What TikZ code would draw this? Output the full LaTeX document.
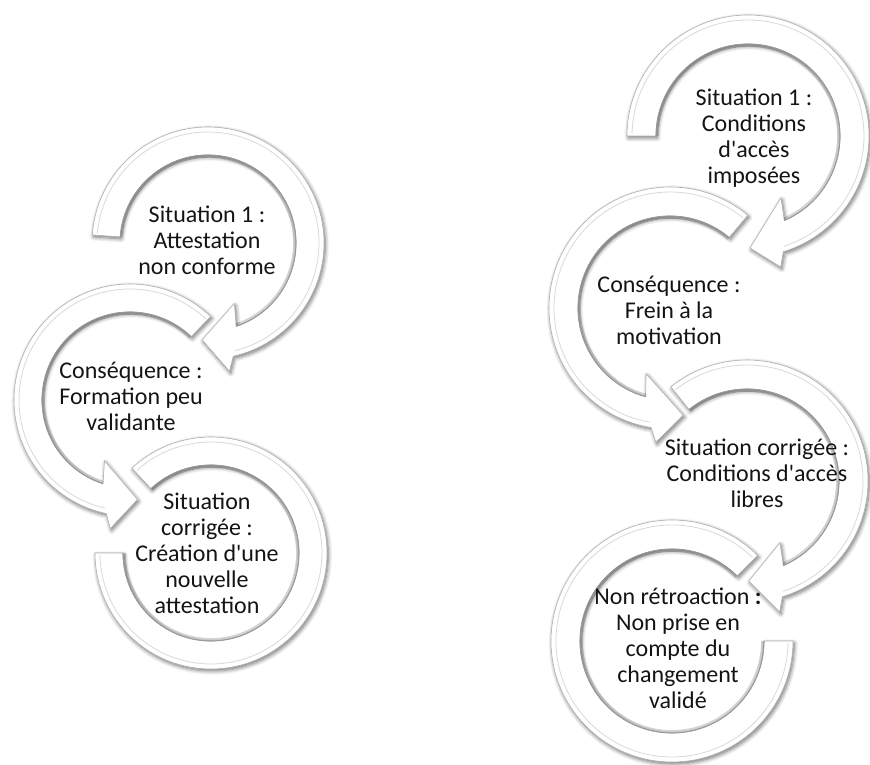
\documentclass[tikz,border=0pt]{standalone}
\usepackage{fontspec}
\setmainfont{Carlito}
\usetikzlibrary{calc,shadows.blur}
\newcommand\ringarc[5]{\draw[#5] ($(#1)+(#2:#4pt)$) arc[start angle=#2,end angle=#3,radius=#4pt];}
\newcommand\apos{\textquotesingle}
\begin{document}
\begin{tikzpicture}[x=1pt,y=1pt,
  ring/.style={fill=white, draw=gray!62, line width=0.6pt,
    blur shadow={shadow xshift=1.3pt, shadow yshift=-2pt, shadow blur radius=4pt, shadow blur steps=7, shadow opacity=55}},
  holeshade/.style={draw=black, opacity=.17, line width=3.2pt},
  inneredge/.style={draw=gray!80, line width=.8pt},
  bevel/.style={draw=gray!30, line width=.8pt},
  lbl/.style={align=center, font=\fontsize{24}{26}\selectfont, text=black!92, inner sep=0pt}]
\useasboundingbox (0,0) rectangle (870,764);
% centres
\coordinate (L1) at (208,521);
\coordinate (L2) at (130,364);
\coordinate (L3) at (211,211);
\coordinate (R1) at (748,628);
\coordinate (R2) at (670,456);
\coordinate (R3) at (747,283);
\coordinate (R4) at (672,123);
% ---------- left group ----------
\path[ring] ($(L3)+(133:116pt)$) arc[start angle=133,end angle=-180,radius=116pt]
  -- ($(L3)+(-180:88pt)$) arc[start angle=-180,end angle=133,radius=88pt] -- cycle;
\ringarc{L3}{133}{-180}{86.7}{holeshade}
\ringarc{L3}{133}{-180}{88}{inneredge}
\ringarc{L3}{132}{-179}{111}{bevel}

\path[ring] ($(L2)+(46:116pt)$) arc[start angle=46,end angle=258.2,radius=116pt]
  -- ($(L2)+(261.3:130pt)$) -- ($(L2)+(274.3:99.8pt)$) -- ($(L2)+(247.3:66pt)$)
  -- ($(L2)+(252.1:88pt)$) arc[start angle=252.1,end angle=46,radius=88pt] -- cycle;
\ringarc{L2}{46}{252.1}{86.7}{holeshade}
\ringarc{L2}{46}{252.1}{88}{inneredge}
\ringarc{L2}{47}{257}{111}{bevel}

\path[ring] ($(L1)+(176:116pt)$) arc[start angle=176,end angle=-77.4,radius=116pt]
  -- ($(L1)+(-80.5:130pt)$) -- ($(L1)+(-93.5:97pt)$) -- ($(L1)+(-66.5:66pt)$)
  -- ($(L1)+(-71.3:88pt)$) arc[start angle=-71.3,end angle=176,radius=88pt] -- cycle;
\ringarc{L1}{176}{-71.3}{86.7}{holeshade}
\ringarc{L1}{176}{-71.3}{88}{inneredge}
\ringarc{L1}{175}{-76}{111}{bevel}
% ---------- right group ----------
\path[ring] ($(R4)+(45:121pt)$) arc[start angle=45,end angle=360,radius=121pt]
  -- ($(R4)+(0:92pt)$) arc[start angle=360,end angle=45,radius=92pt] -- cycle;
\ringarc{R4}{45}{360}{90.7}{holeshade}
\ringarc{R4}{45}{360}{92}{inneredge}
\ringarc{R4}{46}{359}{116}{bevel}

\path[ring] ($(R3)+(129:121pt)$) arc[start angle=129,end angle=-73,radius=121pt]
  -- ($(R3)+(-76:135pt)$) -- ($(R3)+(-89:100pt)$) -- ($(R3)+(-62:70pt)$)
  -- ($(R3)+(-66.7:92pt)$) arc[start angle=-66.7,end angle=129,radius=92pt] -- cycle;
\ringarc{R3}{129}{-66.7}{90.7}{holeshade}
\ringarc{R3}{129}{-66.7}{92}{inneredge}
\ringarc{R3}{128}{-72}{116}{bevel}

\path[ring] ($(R2)+(50:121pt)$) arc[start angle=50,end angle=261,radius=121pt]
  -- ($(R2)+(264:135pt)$) -- ($(R2)+(277:108pt)$) -- ($(R2)+(250:70pt)$)
  -- ($(R2)+(254.7:92pt)$) arc[start angle=254.7,end angle=50,radius=92pt] -- cycle;
\ringarc{R2}{50}{254.7}{90.7}{holeshade}
\ringarc{R2}{50}{254.7}{92}{inneredge}
\ringarc{R2}{51}{260}{116}{bevel}

\path[ring] ($(R1)+(180:121pt)$) arc[start angle=180,end angle=-73,radius=121pt]
  -- ($(R1)+(-76:135pt)$) -- ($(R1)+(-89:112pt)$) -- ($(R1)+(-62:70pt)$)
  -- ($(R1)+(-66.7:92pt)$) arc[start angle=-66.7,end angle=180,radius=92pt] -- cycle;
\ringarc{R1}{180}{-66.7}{90.7}{holeshade}
\ringarc{R1}{180}{-66.7}{92}{inneredge}
\ringarc{R1}{179}{-72}{116}{bevel}
% ---------- texts ----------
\node[lbl] (tL1) at (207,524) {Situation 1 :\\Attestation\\non conforme};
\node[lbl] (tL2) at (131,368) {Conséquence :\\Formation peu\\validante};
\node[lbl] (tL3) at (207,211) {Situation\\corrigée :\\Création d\apos une\\nouvelle\\attestation};
\node[lbl] (tR1) at (754,626) {Situation 1 :\\Conditions\\d\apos accès\\imposées};
\node[lbl] (tR2) at (669,454) {Conséquence :\\Frein à la\\motivation};
\node[lbl] (tR3) at (757,291) {Situation corrigée :\\Conditions d\apos accès\\libres};
\node[lbl] (tR4) at (678,116) {Non rétroaction \textbf{:}\\Non prise en\\compte du\\changement\\validé};
\end{tikzpicture}
\end{document}
